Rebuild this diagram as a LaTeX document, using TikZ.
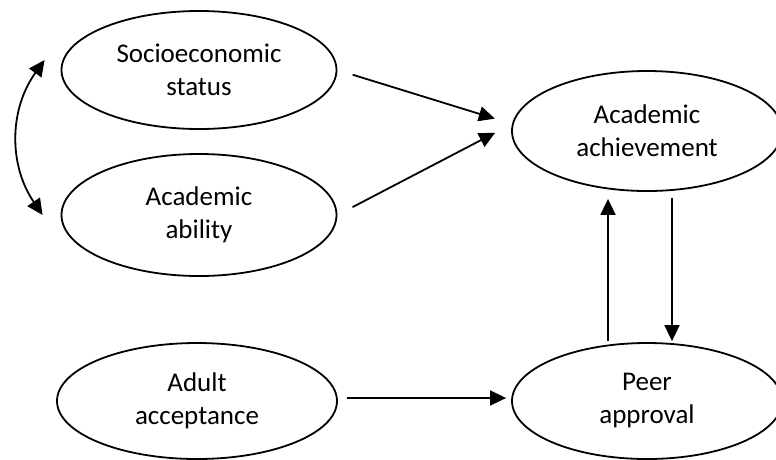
\documentclass[tikz,border=0pt]{standalone}
\usepackage{fontspec}
\setmainfont{Carlito}
\usetikzlibrary{arrows.meta,shapes.geometric}

\begin{document}
\begin{tikzpicture}[x=1pt,y=-1pt,line width=1.8pt,>={Triangle[length=16pt,width=15pt]},draw=black!100]
	\def \rowone{70}
	\def \rowtwo{215}
	\def \rowach{131}
	\def \rowpeer{401}
	\def \leftcol{199}
	\def \rightcol{647}
	\tikzstyle{v-node}=[ellipse,draw=black!100,inner sep=0pt,minimum width=275pt,minimum height=118pt,align=center,font=\fontsize{27}{33}\selectfont]
	\useasboundingbox (0,0) rectangle (776,459);

	% left column
	\node[v-node] 	(ses)	at (\leftcol,\rowone)		{Socioeconomic\\status};
	\node[v-node,minimum height=122pt] 	(ability)	at (\leftcol,\rowtwo)		{Academic\\ability};
	\node[v-node,minimum width=280pt,minimum height=116pt] 	(adult)	at (197,\rowpeer)	{Adult\\acceptance};

	% right column
	\node[v-node,minimum width=270pt,minimum height=120pt] 	(achieve)	at (\rightcol,\rowach)	{Academic\\achievement};
	\node[v-node,minimum width=270pt,minimum height=116pt] 	(peer)	at (\rightcol,\rowpeer)	{Peer\\approval};

	% correlation
	\draw[<->] ([xshift=-16pt,yshift=10pt]ses.west) to[bend right=35] ([xshift=-18pt]ability.west);

	\path[->]
		(ses.east)	edge[shorten <=16pt,shorten >=18pt]	(achieve.177)
		(ability.east)	edge[shorten <=17pt,shorten >=19pt]	(achieve.177)
		([xshift=-39pt]peer.north)	edge[shorten <=1pt,shorten >=7pt]	([xshift=-39pt]achieve.south)
		([xshift=25pt]achieve.south)	edge[shorten <=6pt,shorten >=1pt]	([xshift=25pt]peer.north)
		([yshift=3pt]adult.east)	edge[shorten <=9pt,shorten >=5pt]	([yshift=3pt]peer.west);
\end{tikzpicture}
\end{document}
